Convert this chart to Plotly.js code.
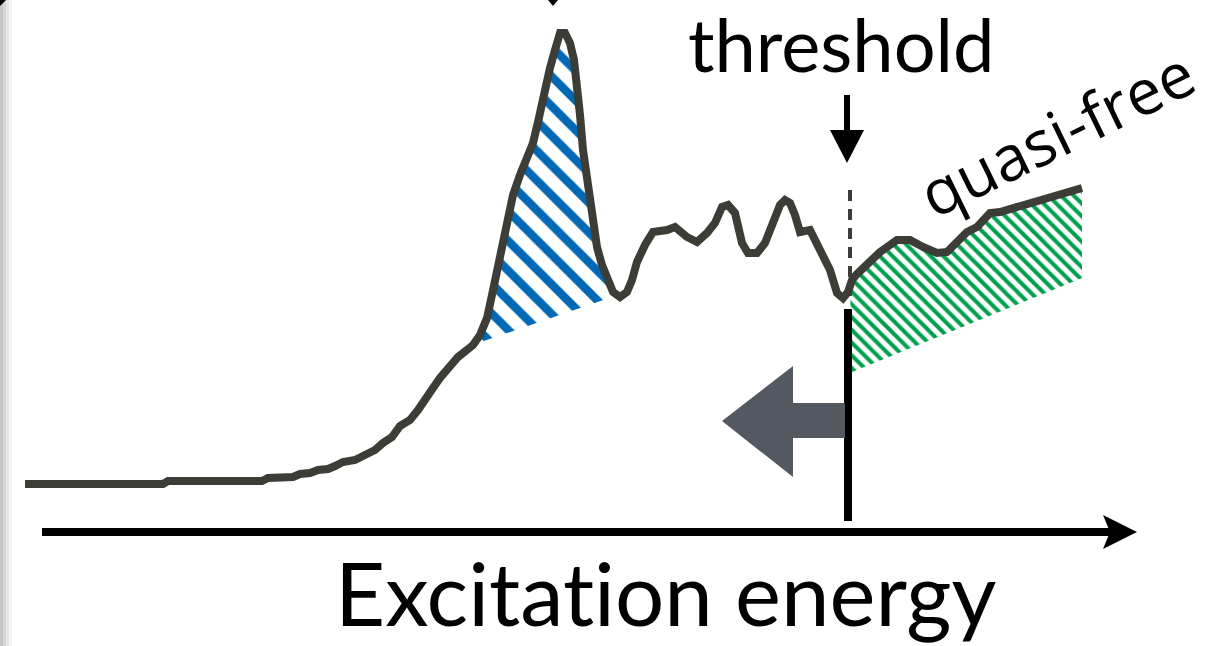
<!DOCTYPE html>
<html>
<head>
<meta charset="utf-8">
<script src="https://cdn.plot.ly/plotly-3.0.1.min.js"></script>
<style>html,body{margin:0;padding:0;background:#fff;}#chart{width:1223px;height:646px;}</style>
</head>
<body>
<div id="chart"></div>
<script>
// Excitation energy (arbitrary units) and spectrum intensity (arbitrary units)
const energy = [25,163,168,262,268,293,300,310,318,328,335,343,355,365,375,383,392,400,410,418,427,433,440,450,458,467,473,480,487,492,497,502,507,513,520,527,533,538,542,546,550,555,560,565,570,574,577,580,583,587,590,594,597,602,607,613,620,627,632,637,645,653,667,675,687,697,707,715,722,728,735,742,748,757,765,773,780,785,790,795,800,810,820,830,837,843,848,852,857,870,880,897,910,923,937,947,960,967,977,990,1000,1017,1037,1050,1067,1082];
const intensity = [162,162,165,165,168,169,172,173,176,177,180,184,186,191,196,203,209,220,226,236,251,258,268,281,289,296,301,311,328,351,376,401,428,451,471,486,503,524,544,561,578,596,613,613,603,586,563,531,496,466,441,416,399,381,366,354,349,354,366,384,401,414,416,419,409,404,413,423,439,441,433,403,393,393,403,426,441,446,443,431,414,416,396,376,353,348,354,366,372,386,394,406,406,399,393,394,406,414,419,433,434,439,446,449,454,458];

// Resonance (blue hatched) region: peak outline closed by a straight background line
const resE = [478,480,487,492,497,502,507,513,520,527,533,538,542,546,550,555,560,565,570,574,577,580,583,587,590,594,597,602,607,612];
const resI = [303,311,328,351,376,401,428,451,471,486,503,524,544,561,578,596,613,613,603,586,563,531,496,466,441,416,399,381,366,349];

// Quasi-free (green hatched) region above threshold
const qfE = [850,852,857,870,880,897,910,923,937,947,960,967,977,990,1000,1017,1037,1050,1067,1082,1082,852];
const qfI = [360,366,372,386,394,406,406,399,393,394,406,414,419,433,434,439,446,449,454,458,368,274];

// Threshold energy
const thresholdE = 848;

// Text labels
const labelThreshold = 'threshold';
const labelQuasiFree = 'quasi-free';
const labelAxis = 'Excitat\u200Cion energy';

const lineColor = '#3d3d37';

const traces = [
  {x: resE, y: resI, mode: 'none', fill: 'toself', fillcolor: 'rgba(0,0,0,0)',
   fillpattern: {shape: '\\', fgcolor: '#0068b4', bgcolor: 'rgba(0,0,0,0)', size: 21, solidity: 0.4},
   hoverinfo: 'skip', showlegend: false},
  {x: qfE, y: qfI, mode: 'none', fill: 'toself', fillcolor: 'rgba(0,0,0,0)',
   fillpattern: {shape: '\\', fgcolor: '#00a04c', bgcolor: 'rgba(0,0,0,0)', size: 9, solidity: 0.45},
   hoverinfo: 'skip', showlegend: false},
  {x: energy, y: intensity, mode: 'lines', line: {color: lineColor, width: 8, shape: 'linear'},
   hoverinfo: 'skip', showlegend: false}
];

const layout = {
  width: 1223, height: 646,
  margin: {l: 0, r: 0, t: 0, b: 0},
  paper_bgcolor: '#ffffff', plot_bgcolor: '#ffffff',
  xaxis: {range: [0, 1223], visible: false, fixedrange: true},
  yaxis: {range: [0, 646], visible: false, fixedrange: true},
  shapes: [
    // left edge shadow
    {type: 'rect', xref: 'paper', yref: 'paper', x0: 0, x1: 0.0025, y0: 0, y1: 1, fillcolor: '#c4c4c4', line: {width: 0}, layer: 'below'},
    {type: 'rect', xref: 'paper', yref: 'paper', x0: 0.0025, x1: 0.005, y0: 0, y1: 1, fillcolor: '#d6d6d6', line: {width: 0}, layer: 'below'},
    {type: 'rect', xref: 'paper', yref: 'paper', x0: 0.005, x1: 0.0075, y0: 0, y1: 1, fillcolor: '#e6e6e6', line: {width: 0}, layer: 'below'},
    {type: 'rect', xref: 'paper', yref: 'paper', x0: 0.0075, x1: 0.01, y0: 0, y1: 1, fillcolor: '#f4f4f4', line: {width: 0}, layer: 'below'},
    // top-left corner
    {type: 'path', path: 'M0,646 L6,646 L0,640 Z', fillcolor: '#000', line: {width: 0}},
    // cut-off arrow tip at top above the peak
    {type: 'path', path: 'M548,646 L558,646 L553,640 Z', fillcolor: '#000', line: {width: 0}},
    // threshold dashed line
    {type: 'line', x0: 850, x1: 850, y0: 456, y1: 346, line: {color: lineColor, width: 4, dash: '11px,8px'}},
    // threshold solid bar
    {type: 'line', x0: thresholdE, x1: thresholdE, y0: 337, y1: 125, line: {color: '#000', width: 8}},
    // grey left arrow
    {type: 'path', path: 'M722,225 L793,280 L793,243 L845,243 L845,208 L793,208 L793,169 Z', fillcolor: '#545861', line: {width: 0}},
    // threshold down arrow
    {type: 'line', x0: 847, x1: 847, y0: 551, y1: 512, line: {color: '#000', width: 6}},
    {type: 'path', path: 'M830,516 L864,516 L847,483 Z', fillcolor: '#000', line: {width: 0}},
    // x axis arrow
    {type: 'line', x0: 42, x1: 1112, y0: 114, y1: 114, line: {color: '#000', width: 8}},
    {type: 'path', path: 'M1137,114 L1103,131 L1110,114 L1103,97 Z', fillcolor: '#000', line: {width: 0}}
  ],
  annotations: [
    {x: 841, y: 603, xref: 'x', yref: 'y', text: labelThreshold, showarrow: false,
     font: {family: 'Lato, sans-serif', size: 74, color: '#000'}, xanchor: 'center', yanchor: 'middle'},
    {x: 1056, y: 514, xref: 'x', yref: 'y', text: labelQuasiFree, showarrow: false, textangle: -26,
     font: {family: '"Open Sans", sans-serif', size: 63, color: '#000'}, xanchor: 'center', yanchor: 'middle'},
    {x: 665, y: 54, xref: 'x', yref: 'y', text: labelAxis, showarrow: false,
     font: {family: 'Lato, sans-serif', size: 87, color: '#000'}, xanchor: 'center', yanchor: 'middle'}
  ]
};

Plotly.newPlot('chart', traces, layout, {displayModeBar: false, staticPlot: true});
</script>
</body>
</html>
